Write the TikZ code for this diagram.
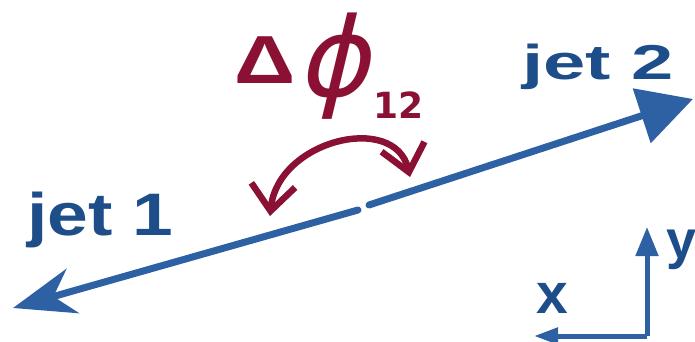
\documentclass[tikz,border=0pt]{standalone}
\usepackage{fontspec}
\setmainfont{Liberation Sans}
\newfontfamily\dejavu{DejaVu Sans}
\newfontfamily\dejavubold{DejaVu Sans Bold}
\usetikzlibrary{arrows.meta}
\definecolor{jetblue}{RGB}{46,96,164}
\definecolor{txtblue}{RGB}{30,78,138}
\definecolor{phired}{RGB}{138,16,52}
\tikzset{
  jetline/.style={draw=jetblue, line width=7pt, line cap=round},
  axisline/.style={draw=jetblue, line width=5pt},
  jetlabel/.style={text=txtblue, font=\bfseries, inner sep=0pt, anchor=base west},
  redtext/.style={text=phired, inner sep=0pt},
  swing/.style={draw=phired, line width=6.5pt, line cap=round, line join=round,
    {Straight Barb[length=26pt,width=44pt,line width=6.5pt]}-{Straight Barb[length=26pt,width=44pt,line width=6.5pt]}}
}
\begin{document}
\begin{tikzpicture}[x=1pt,y=-1pt]
\useasboundingbox (0,0) rectangle (695,342);
% jets
\coordinate (c1) at (358,210);
\coordinate (c2) at (369,205);
\coordinate (j1) at (13,308);
\coordinate (j2) at (693,99);
\draw[jetline, -{Stealth[length=62pt,width=46pt,inset=20pt]}] (c1) -- (j1);
\draw[jetline, -{Triangle[length=54pt,width=56pt]}] (c2) -- (j2);
% labels
\node[jetlabel, font=\bfseries\fontsize{60}{60}\selectfont, xscale=1.22] (l1) at (27,235) {jet 1};
\node[jetlabel, font=\bfseries\fontsize{49}{49}\selectfont, xscale=1.55] (l2) at (522,80) {jet 2};
% axes
\coordinate (o) at (647,336);
\coordinate (ay) at (647,227);
\coordinate (ax) at (534,336);
\draw[axisline, -{Triangle[length=29pt,width=22pt]}] (o) -- (ay);
\draw[axisline, -{Triangle[length=24pt,width=16pt]}] (o) -- (ax);
\node[jetlabel, font=\bfseries\fontsize{57}{57}\selectfont] (lx) at (536,313) {x};
\node[jetlabel, font=\bfseries\fontsize{54}{54}\selectfont] (ly) at (666,258) {y};
% delta phi
\node[redtext, font=\bfseries\fontsize{68}{68}\selectfont, anchor=base west, xscale=1.25] (dl) at (234,84) {Δ};
\node[redtext, font=\dejavu\fontsize{110}{110}\selectfont, anchor=base, xslant=0.24] (ph) at (333,97) {ϕ};
\node[redtext, font=\dejavubold\fontsize{36}{36}\selectfont, anchor=base west] (sub) at (373,118) {12};
% swing arrow
\coordinate (s1) at (270,216);
\coordinate (s2) at (410,177);
\draw[swing] (s1) .. controls (278,140) and (395,112) .. (s2);
\end{tikzpicture}
\end{document}
